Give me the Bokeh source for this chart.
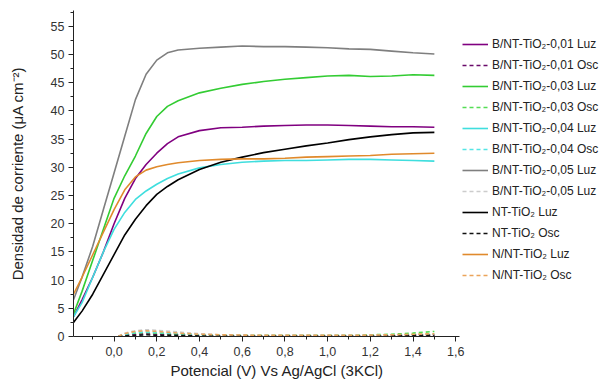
from bokeh.plotting import figure
from bokeh.models import Range1d, FixedTicker, Legend, LegendItem, CustomJSTickFormatter, Title
from bokeh.embed import file_html
from bokeh.resources import INLINE

# ---- data ----
x_luz = [-0.19, -0.15, -0.1, -0.05, 0.0, 0.05, 0.1, 0.15, 0.2, 0.25, 0.3, 0.4, 0.5,
         0.6, 0.7, 0.8, 0.9, 1.0, 1.1, 1.2, 1.3, 1.4, 1.5]
b001_luz = [3.5, 6.5, 10.5, 15.0, 20.0, 24.5, 28.0, 30.5, 32.5, 34.2, 35.4, 36.5, 37.0,
            37.1, 37.3, 37.4, 37.5, 37.5, 37.4, 37.3, 37.2, 37.2, 37.1]
b003_luz = [4.0, 8.0, 13.5, 19.0, 24.5, 28.5, 32.0, 36.0, 39.0, 40.8, 41.8, 43.2, 44.0,
            44.7, 45.2, 45.6, 45.9, 46.2, 46.3, 46.1, 46.2, 46.4, 46.3]
b004_luz = [3.5, 6.0, 10.5, 15.0, 19.0, 22.0, 24.3, 25.8, 27.0, 28.0, 28.8, 29.9, 30.5,
            30.9, 31.1, 31.2, 31.2, 31.3, 31.4, 31.4, 31.3, 31.2, 31.1]
b005_luz = [6.5, 10.5, 16.0, 22.5, 29.0, 35.5, 42.0, 46.5, 49.0, 50.3, 50.8, 51.1, 51.3,
            51.5, 51.4, 51.4, 51.3, 51.2, 51.0, 50.9, 50.6, 50.3, 50.1]
nt_luz = [2.5, 4.5, 7.5, 11.0, 14.5, 18.0, 20.8, 23.2, 25.2, 26.6, 27.8, 29.6, 30.9,
          31.8, 32.6, 33.2, 33.8, 34.3, 34.9, 35.4, 35.8, 36.1, 36.2]
n_luz = [7.5, 10.5, 14.5, 18.5, 22.5, 26.0, 28.3, 29.5, 30.1, 30.5, 30.8, 31.2, 31.4,
         31.5, 31.5, 31.6, 31.8, 31.9, 32.0, 32.1, 32.3, 32.4, 32.5]

x_osc = [0.02, 0.04, 0.07, 0.1, 0.15, 0.2, 0.3, 0.4, 0.5, 0.7, 0.9, 1.1, 1.3, 1.4, 1.5]
b001_osc = [0.0, 0.2, 0.3, 0.4, 0.5, 0.4, 0.3, 0.2, 0.1, 0.1, 0.1, 0.1, 0.1, 0.2, 0.2]
b003_osc = [0.0, 0.3, 0.5, 0.6, 0.7, 0.6, 0.4, 0.3, 0.2, 0.2, 0.2, 0.2, 0.4, 0.6, 0.9]
b004_osc = [0.0, 0.3, 0.5, 0.7, 0.8, 0.7, 0.5, 0.3, 0.2, 0.1, 0.1, 0.1, 0.2, 0.3, 0.4]
b005_osc = [0.0, 0.5, 0.8, 1.0, 1.2, 1.1, 0.8, 0.5, 0.3, 0.2, 0.2, 0.2, 0.2, 0.3, 0.3]
nt_osc = [0.0, 0.1, 0.15, 0.2, 0.3, 0.2, 0.2, 0.1, 0.1, 0.1, 0.1, 0.1, 0.1, 0.2, 0.2]
n_osc = [0.0, 0.4, 0.7, 0.9, 1.0, 0.9, 0.6, 0.4, 0.3, 0.2, 0.2, 0.2, 0.3, 0.4, 0.5]

labels = ["B/NT-TiO\u2082-0,01 Luz", "B/NT-TiO\u2082-0,01 Osc",
          "B/NT-TiO\u2082-0,03 Luz", "B/NT-TiO\u2082-0,03 Osc",
          "B/NT-TiO\u2082-0,04 Luz", "B/NT-TiO\u2082-0,04 Osc",
          "B/NT-TiO\u2082-0,05 Luz", "B/NT-TiO\u2082-0,05 Luz",
          "NT-TiO\u2082 Luz", "NT-TiO\u2082 Osc",
          "N/NT-TiO\u2082 Luz", "N/NT-TiO\u2082 Osc"]

x_ticks = [-0.2, 0.0, 0.2, 0.4, 0.6, 0.8, 1.0, 1.2, 1.4, 1.6]
x_minor = [-0.1, 0.1, 0.3, 0.5, 0.7, 0.9, 1.1, 1.3, 1.5]
y_ticks = [0, 5, 10, 15, 20, 25, 30, 35, 40, 45, 50, 55]
y_minor = [2.5, 7.5, 12.5, 17.5, 22.5, 27.5, 32.5, 37.5, 42.5, 47.5, 52.5, 57.5]

x_title = "Potencial (V) Vs Ag/AgCl (3KCl)"
y_title = "Densidad de corriente (\u03bcA cm\u207b\u00b2)"

FONT = "Liberation Sans"

# frame spans to the right edge; the x axis line itself is bounded to the data area
p = figure(width=600, height=385, x_range=Range1d(-0.19, 2.278), y_range=Range1d(0, 57.8),
           output_backend="svg", toolbar_location=None,
           min_border_left=73, min_border_right=0, min_border_top=10, min_border_bottom=49)
p.outline_line_color = None
p.grid.visible = False
p.background_fill_color = "white"

series = [
    (x_luz, b001_luz, "#800080", None),
    (x_osc, b001_osc, "#6a0a6a", "4 3"),
    (x_luz, b003_luz, "#33cc33", None),
    (x_osc, b003_osc, "#55dd55", "4 3"),
    (x_luz, b004_luz, "#3fdede", None),
    (x_osc, b004_osc, "#55e5e5", "4 3"),
    (x_luz, b005_luz, "#7f7f7f", None),
    (x_osc, b005_osc, "#cccccc", "4 3"),
    (x_luz, nt_luz, "#000000", None),
    (x_osc, nt_osc, "#111111", "4 3"),
    (x_luz, n_luz, "#e08a2c", None),
    (x_osc, n_osc, "#eba45a", "4 3"),
]

items = []
for (xs, ys, col, dash), lab in zip(series, labels):
    kw = dict(line_color=col, line_width=1.6)
    if dash:
        kw["line_dash"] = dash
    r = p.line(xs, ys, **kw)
    items.append(LegendItem(label=lab, renderers=[r]))

legend = Legend(items=items, location=(389, 53),
                label_text_font=FONT, label_text_font_size="12px", label_text_color="#222222",
                glyph_width=26, glyph_height=16, label_height=16, spacing=5,
                padding=0, margin=0, label_standoff=4,
                border_line_alpha=0, background_fill_alpha=0)
p.add_layout(legend)

for ax in (p.xaxis[0], p.yaxis[0]):
    ax.axis_line_color = "#222222"
    ax.major_tick_line_color = "#222222"
    ax.minor_tick_line_color = "#222222"
    ax.major_tick_in = 0
    ax.major_tick_out = 5
    ax.minor_tick_in = 0
    ax.minor_tick_out = 3
    ax.major_label_text_font = FONT
    ax.major_label_text_font_size = "12.5px"
    ax.major_label_text_color = "#333333"
    ax.axis_label_text_font = FONT
    ax.axis_label_text_font_size = "15px"
    ax.axis_label_text_font_style = "normal"
    ax.axis_label_text_color = "#222222"

p.xaxis.bounds = (-0.19, 1.62)
p.xaxis.ticker = FixedTicker(ticks=x_ticks, minor_ticks=x_minor)
p.yaxis.ticker = FixedTicker(ticks=y_ticks, minor_ticks=y_minor)
p.xaxis.formatter = CustomJSTickFormatter(code="return tick.toFixed(1).replace('.', ',');")
p.yaxis.formatter = CustomJSTickFormatter(code="return tick.toFixed(0);")
p.xaxis.major_label_standoff = 5
p.yaxis.major_label_standoff = 4
p.yaxis.axis_label = y_title
p.yaxis.axis_label_standoff = 22

# x-axis title placed under the bounded axis (centred on the data area, not the full frame)
xt = Title(text=x_title, align="left", offset=97, standoff=2,
           text_font=FONT, text_font_size="15px", text_font_style="normal",
           text_color="#222222")
p.add_layout(xt, "below")

open("out.html", "w").write(file_html(p, INLINE))
